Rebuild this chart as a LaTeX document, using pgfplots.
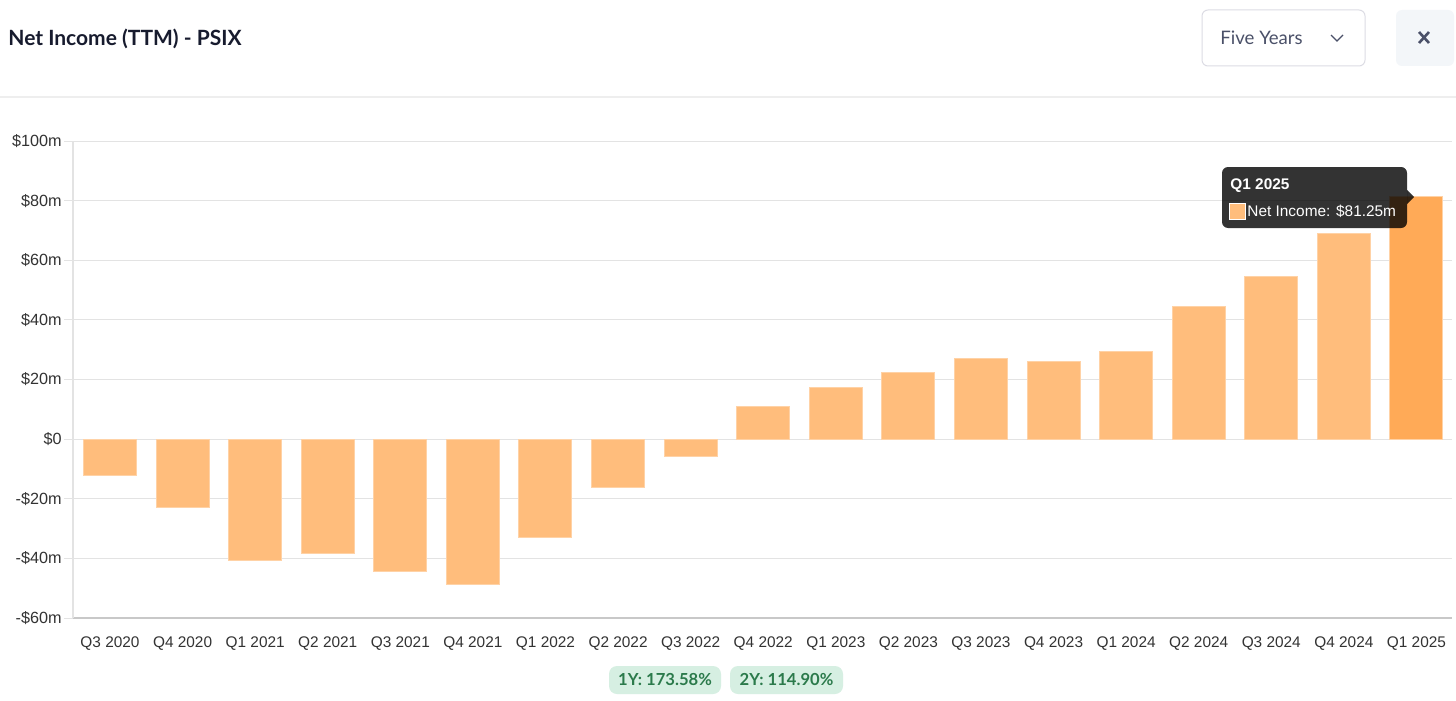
\documentclass[border=0pt]{standalone}
\usepackage{pgfplots}
\pgfplotsset{compat=1.18}
\usepackage{fontspec}
\setmainfont{Liberation Sans}
\newfontfamily\lato{Lato}

\definecolor{barcol}{HTML}{FFBD7C}
\definecolor{barlast}{HTML}{FFAA57}
\definecolor{baredge}{HTML}{FFD2A6}
\definecolor{gridcol}{HTML}{E3E3E3}
\definecolor{axiscol}{HTML}{C8C8C8}
\definecolor{tickcol}{HTML}{333333}
\definecolor{titlecol}{HTML}{171B2E}
\definecolor{sepcol}{HTML}{EEEEEE}
\definecolor{ddborder}{HTML}{DCDCE4}
\definecolor{ddtext}{HTML}{4A5068}
\definecolor{closebg}{HTML}{F3F6F9}
\definecolor{badgebg}{HTML}{D6EFE2}
\definecolor{badgetext}{HTML}{2B7A4B}

\begin{document}
\begin{tikzpicture}[x=0.5pt,y=-0.5pt]
\fill[white] (0,0) rectangle (1456,701);
\useasboundingbox (0,0) rectangle (1456,701);

% header
\node[anchor=base west, inner sep=0pt, text=titlecol,
  font=\lato\bfseries\fontsize{10.5}{12}\selectfont] at (8,46) {Net Income (TTM) - PSIX};
\draw[sepcol, line width=0.6pt] (0,97) -- (1456,97);
\draw[ddborder, line width=0.5pt, rounded corners=3pt, fill=white] (1202,10) rectangle (1365,66);
\node[anchor=base west, inner sep=0pt, text=ddtext,
  font=\lato\fontsize{9.3}{11}\selectfont] at (1220,45) {Five Years};
\draw[ddtext, line width=0.6pt] (1331,35) -- (1337,41) -- (1343,35);
\fill[closebg, rounded corners=3pt] (1396,10) rectangle (1454,66);
\draw[ddtext, line width=1.3pt] (1419,32) -- (1429,43) (1419,43) -- (1429,32);

\begin{axis}[
  at={(36.5pt,-309pt)}, anchor=south west,
  scale only axis, width=689.5pt, height=238.5pt,
  xmin=-0.51, xmax=18.49, ymin=-60, ymax=100,
  axis x line*=bottom, axis y line*=left,
  x axis line style={axiscol, line width=0.6pt, -},
  y axis line style={gridcol, line width=0.6pt, -},
  ymajorgrids, grid style={gridcol, line width=0.5pt},
  ytick={-60,-40,...,100},
  yticklabels={-\$60m,-\$40m,-\$20m,\$0,\$20m,\$40m,\$60m,\$80m,\$100m},
  xtick={0,...,18},
  xticklabels={Q3 2020,Q4 2020,Q1 2021,Q2 2021,Q3 2021,Q4 2021,Q1 2022,Q2 2022,Q3 2022,
    Q4 2022,Q1 2023,Q2 2023,Q3 2023,Q4 2023,Q1 2024,Q2 2024,Q3 2024,Q4 2024,Q1 2025},
  tick align=outside, major tick length=4.5pt,
  ytick style={gridcol, line width=0.5pt},
  xtick style={draw=none},
  tick label style={font=\fontsize{7.7}{9}\selectfont, text=tickcol},
  xticklabel style={inner sep=0pt, anchor=north, yshift=-4.5pt},
  yticklabel style={inner sep=0pt, anchor=east, xshift=-1pt, font=\fontsize{8.1}{9}\selectfont},
  bar width=26.5pt,
]
\addplot[ybar, bar shift=0pt, fill=barcol, draw=baredge, line width=0.5pt] coordinates {
  (0,-12.1) (1,-23.1) (2,-40.6) (3,-38.3) (4,-44.3) (5,-48.7) (6,-33.0) (7,-16.1) (8,-5.7)
  (9,11.1) (10,17.4) (11,22.5) (12,27.2) (13,26.2) (14,29.5) (15,44.6) (16,54.4) (17,69.1)
};
\addplot[ybar, bar shift=0pt, fill=barlast, draw=baredge, line width=0.5pt] coordinates {
  (18,81.25)
};
\end{axis}

% tooltip
\fill[black, opacity=0.8, rounded corners=3pt] (1222,167) rectangle (1407,228);
\fill[black, opacity=0.8] (1407,190) -- (1414,197) -- (1407,204) -- cycle;
\node[anchor=base west, inner sep=0pt, text=white,
  font=\bfseries\fontsize{7.7}{9}\selectfont] at (1230,189) {Q1 2025};
\filldraw[fill=barcol, draw=white, line width=0.5pt] (1229,203) rectangle (1245,219);
\node[anchor=base west, inner sep=0pt, text=white,
  font=\fontsize{7.7}{9}\selectfont] at (1247,216) {Net Income: \$81.25m};

% badges
\fill[badgebg, rounded corners=4pt] (609,666) rectangle (721,694);
\fill[badgebg, rounded corners=4pt] (730,666) rectangle (843,694);
\node[text=badgetext, inner sep=0pt, font=\lato\bfseries\fontsize{8.3}{10}\selectfont] at (665,680) {1Y: 173.58\%};
\node[text=badgetext, inner sep=0pt, font=\lato\bfseries\fontsize{8.3}{10}\selectfont] at (786.5,680) {2Y: 114.90\%};
\end{tikzpicture}
\end{document}
